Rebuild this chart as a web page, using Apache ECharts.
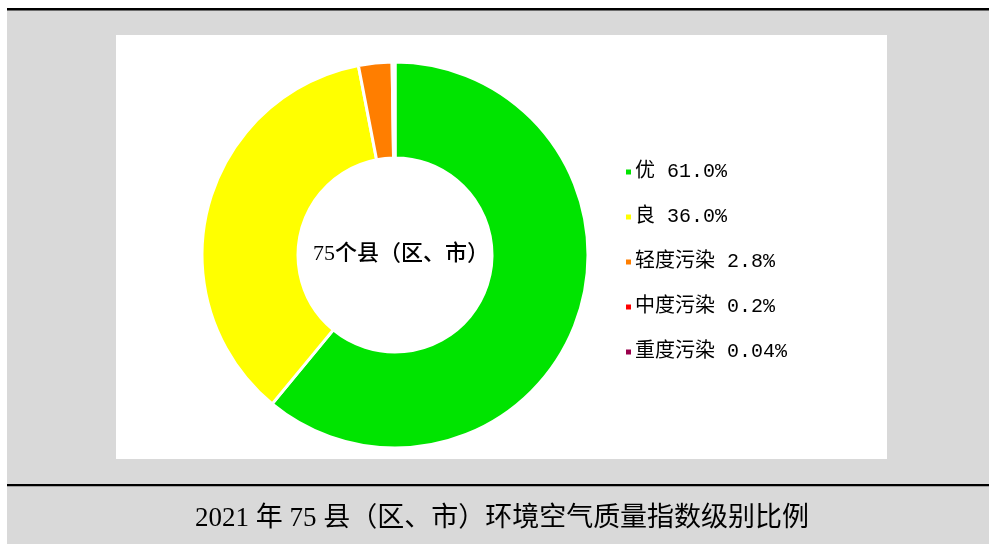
<!DOCTYPE html>
<html>
<head>
<meta charset="utf-8">
<script src="https://cdn.jsdelivr.net/npm/echarts@6/dist/echarts.min.js"></script>
<style>
html,body{margin:0;padding:0;background:#fff;}
#chart{width:989px;height:544px;}
</style>
</head>
<body>
<div id="chart"></div>
<script>
const categories = ['优', '良', '轻度污染', '中度污染', '重度污染'];
const percents = [61.0, 36.0, 2.8, 0.2, 0.04];
const colors = ['#00E400', '#FFFF00', '#FF7E00', '#FF0000', '#99004C'];
const centerText = '75个县（区、市）';
const titleText = '2021 年 75 县（区、市）环境空气质量指数级别比例';

function fmt(v) { return v >= 0.1 ? v.toFixed(1) : String(v); }

const chart = echarts.init(document.getElementById('chart'), null, {renderer: 'canvas'});
const option = {
  animation: false,
  backgroundColor: '#ffffff',
  graphic: [
    {type: 'rect', shape: {x: 7, y: 10, width: 982, height: 534}, style: {fill: '#D9D9D9'}, z: -10, silent: true},
    {type: 'rect', shape: {x: 116, y: 35, width: 771, height: 424}, style: {fill: '#FFFFFF'}, z: -9, silent: true},
    {type: 'rect', shape: {x: 7, y: 8, width: 982, height: 2.5}, style: {fill: '#000000'}, z: -8, silent: true},
    {type: 'rect', shape: {x: 7, y: 484, width: 982, height: 2.2}, style: {fill: '#000000'}, z: -8, silent: true},
    {type: 'text', x: 401, y: 254, z: 10, silent: true,
      style: {text: centerText, x: 0, y: 0, align: 'center', verticalAlign: 'middle',
        font: '500 22px "Liberation Serif", "Noto Sans CJK SC"', fill: '#000'}},
    {type: 'text', x: 502, y: 519, z: 10, silent: true,
      style: {text: titleText, x: 0, y: 0, align: 'center', verticalAlign: 'middle',
        font: '27px "Liberation Serif", "Noto Sans CJK SC"', fill: '#000'}}
  ],
  legend: {
    orient: 'vertical',
    left: 619,
    top: 157,
    itemWidth: 7,
    itemHeight: 7,
    itemGap: 25,
    icon: 'rect',
    data: categories,
    textStyle: {fontSize: 20, lineHeight: 20, color: '#000', padding: [0, 0, 0, -2], fontFamily: '"Liberation Mono", "Noto Sans CJK SC"'},
    formatter: function (name) {
      const i = categories.indexOf(name);
      return name + ' ' + fmt(percents[i]) + '%';
    },
    selectedMode: false
  },
  series: [{
    type: 'pie',
    center: [395, 255],
    radius: [97, 193],
    startAngle: 90,
    clockwise: true,
    avoidLabelOverlap: false,
    label: {show: false},
    labelLine: {show: false},
    emphasis: {disabled: true},
    itemStyle: {borderColor: '#ffffff', borderWidth: 3},
    data: categories.map((c, i) => ({name: c, value: percents[i], itemStyle: {color: colors[i]}}))
  }]
};
chart.setOption(option);
</script>
</body>
</html>
